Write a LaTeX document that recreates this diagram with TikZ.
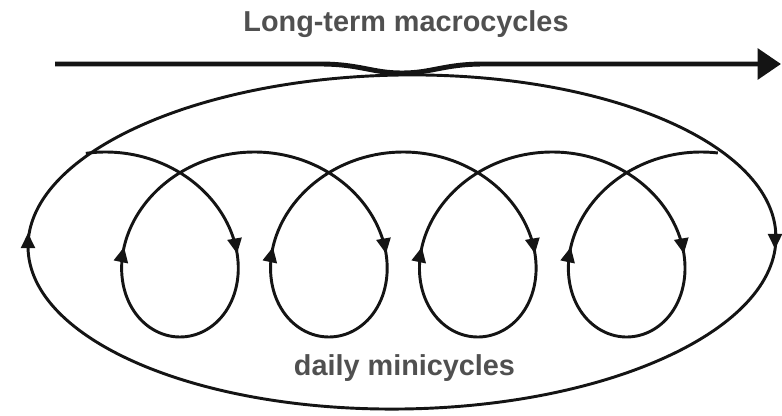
\documentclass[tikz,border=0pt]{standalone}
\usepackage{fontspec}
\setmainfont{Liberation Sans}
\usetikzlibrary{arrows.meta}
\definecolor{lblgray}{HTML}{505050}
\definecolor{ink}{HTML}{141414}
\begin{document}
\begin{tikzpicture}[x=0.03cm,y=-0.03cm,
  curve/.style={line width=2.5pt, draw=ink},
  tipmark/.style={curve, -{Triangle[length=13pt,width=12pt]}},
  bigarrow/.style={line width=4.2pt, draw=ink, -{Triangle[length=20pt,width=26pt]}},
  lbl/.style={font=\fontsize{24.6}{28}\selectfont\bfseries, text=lblgray, inner sep=0pt, anchor=base}]
\useasboundingbox (0,0) rectangle (782,415);

% labels
\node[lbl] (macro) at (406,31) {Long-term macrocycles};
\node[lbl] (mini) at (404.5,375) {daily minicycles};

% top arrow
\coordinate (arrS) at (55,64);
\coordinate (arrE) at (781,64);
\draw[bigarrow] (arrS) -- (320,64) .. controls (360,64) and (372,73) .. (402,73)
  .. controls (432,73) and (444,64) .. (484,64) -- (arrE);

% big ellipse
\coordinate (ec) at (402,242);
\draw[curve, rotate around={0.85:(ec)}] (ec) ellipse [x radius=374, y radius=167];
\coordinate (eL1) at (28,252); \coordinate (eL2) at (28,233);
\coordinate (eR1) at (775,232); \coordinate (eR2) at (775,249);
\draw[tipmark] (eL1) -- (eL2);
\draw[tipmark] (eR1) -- (eR2);

% daily loops (prolate trochoid)
\draw[curve] plot[domain=-0.17:25.283, samples=500, smooth]
  ({105.5+23.7*\x+92.5*sin(\x r)}, {244.5-92.5*cos(\x r)});
\foreach \k in {0,1,2,3}{
  \draw[tipmark] plot[domain={1.52+2*pi*\k}:{1.67+2*pi*\k}, samples=6]
    ({105.5+23.7*\x+92.5*sin(\x r)}, {244.5-92.5*cos(\x r)});
  \draw[tipmark] plot[domain={4.53+2*pi*\k}:{4.685+2*pi*\k}, samples=6]
    ({105.5+23.7*\x+92.5*sin(\x r)}, {244.5-92.5*cos(\x r)});
}
\end{tikzpicture}
\end{document}
